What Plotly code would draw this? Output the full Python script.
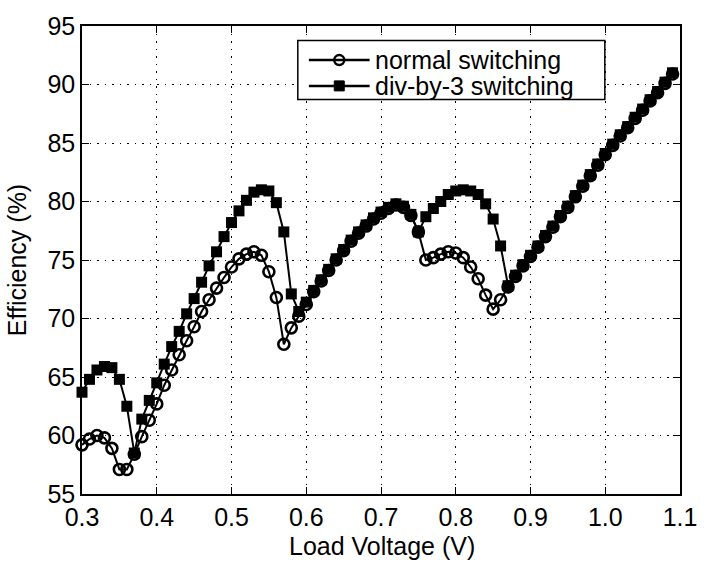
import plotly.graph_objects as go

load_voltage = [0.30, 0.31, 0.32, 0.33, 0.34, 0.35, 0.36, 0.37, 0.38, 0.39,
                0.40, 0.41, 0.42, 0.43, 0.44, 0.45, 0.46, 0.47, 0.48, 0.49,
                0.50, 0.51, 0.52, 0.53, 0.54, 0.55, 0.56, 0.57, 0.58, 0.59,
                0.60, 0.61, 0.62, 0.63, 0.64, 0.65, 0.66, 0.67, 0.68, 0.69,
                0.70, 0.71, 0.72, 0.73, 0.74, 0.75, 0.76, 0.77, 0.78, 0.79,
                0.80, 0.81, 0.82, 0.83, 0.84, 0.85, 0.86, 0.87, 0.88, 0.89,
                0.90, 0.91, 0.92, 0.93, 0.94, 0.95, 0.96, 0.97, 0.98, 0.99,
                1.00, 1.01, 1.02, 1.03, 1.04, 1.05, 1.06, 1.07, 1.08, 1.09]

normal_switching = [59.2, 59.7, 60.0, 59.8, 58.9, 57.1, 57.1, 58.4, 59.9, 61.3,
                    62.7, 64.3, 65.6, 66.9, 68.1, 69.3, 70.6, 71.6, 72.6, 73.5,
                    74.4, 75.1, 75.5, 75.7, 75.4, 74.0, 71.8, 67.8, 69.2, 70.2,
                    71.2, 72.3, 73.2, 74.1, 75.0, 75.8, 76.6, 77.3, 77.9, 78.5,
                    79.0, 79.4, 79.7, 79.5, 78.8, 77.4, 75.0, 75.2, 75.5, 75.7,
                    75.6, 75.2, 74.4, 73.4, 72.0, 70.8, 71.6, 72.7, 73.6, 74.5,
                    75.3, 76.1, 77.0, 77.8, 78.7, 79.5, 80.4, 81.3, 82.2, 83.1,
                    84.0, 84.8, 85.6, 86.3, 87.1, 87.8, 88.6, 89.3, 90.1, 90.9]

div3_switching = [63.7, 64.8, 65.6, 65.9, 65.8, 64.8, 62.5, 58.5, 61.4, 63.0,
                  64.5, 66.1, 67.6, 68.9, 70.4, 71.7, 73.1, 74.5, 75.7, 77.0,
                  78.2, 79.2, 80.1, 80.8, 81.0, 80.9, 79.9, 77.4, 72.1, 70.6,
                  71.4, 72.4, 73.3, 74.2, 75.1, 75.9, 76.7, 77.4, 78.0, 78.6,
                  79.1, 79.5, 79.8, 79.6, 78.9, 77.4, 78.7, 79.4, 80.0, 80.6,
                  80.9, 81.0, 80.9, 80.6, 79.8, 78.5, 76.2, 72.8, 73.7, 74.6,
                  75.4, 76.2, 77.1, 77.9, 78.8, 79.6, 80.5, 81.4, 82.3, 83.2,
                  84.1, 84.9, 85.7, 86.4, 87.2, 87.9, 88.7, 89.4, 90.2, 91.0]

series_names = ["normal switching", "div-by-3 switching"]

x_ticks = [0.3, 0.4, 0.5, 0.6, 0.7, 0.8, 0.9, 1.0, 1.1]
x_tick_labels = ["0.3", "0.4", "0.5", "0.6", "0.7", "0.8", "0.9", "1.0", "1.1"]
y_ticks = [55, 60, 65, 70, 75, 80, 85, 90, 95]

FONT = "Liberation Sans, Arial, Helvetica, sans-serif"
W, H = 709, 563
ML, MR, MT, MB = 81.5, 17.3, 13.5, 69
PW, PH = W - ML - MR, H - MT - MB


def px2paper_x(px):
    return (px - ML) / PW


def px2paper_y(py):
    return (H - MB - py) / PH


fig = go.Figure()
fig.add_trace(go.Scatter(
    x=load_voltage, y=normal_switching, name=series_names[0],
    mode="lines+markers",
    line=dict(color="black", width=2),
    marker=dict(symbol="circle-open", size=11, color="black", line=dict(width=2.6)),
    cliponaxis=False,
))
fig.add_trace(go.Scatter(
    x=load_voltage, y=div3_switching, name=series_names[1],
    mode="lines+markers",
    line=dict(color="black", width=2),
    marker=dict(symbol="square", size=11, color="black"),
    cliponaxis=False,
))

axis_common = dict(
    showline=True, linecolor="black", linewidth=1.5, mirror="ticks",
    ticks="inside", ticklen=7, tickwidth=1, tickcolor="black",
    showgrid=True, gridcolor="black", gridwidth=1, griddash="1.5px,6px",
    zeroline=False, ticklabeloverflow="allow",
    tickfont=dict(family=FONT, size=25, color="black"),
)

# Legend drawn as a box with sample lines / markers / labels
shapes = []
annotations = []
box = (301.7, 28.3, 615.0, 89.0)
shapes.append(dict(type="rect", xref="paper", yref="paper",
                   x0=px2paper_x(box[0]), x1=px2paper_x(box[2]),
                   y0=px2paper_y(box[3]), y1=px2paper_y(box[1]),
                   line=dict(color="black", width=1.5), fillcolor="white", layer="above"))
rows = [48.5, 75.0]
for i, (name, cy) in enumerate(zip(series_names, rows)):
    yp = px2paper_y(cy)
    shapes.append(dict(type="line", xref="paper", yref="paper",
                       x0=px2paper_x(313), x1=px2paper_x(375), y0=yp, y1=yp,
                       line=dict(color="black", width=2.5), layer="above"))
    cx = px2paper_x(344)
    if i == 0:
        shapes.append(dict(type="circle", xref="paper", yref="paper",
                           xsizemode="pixel", ysizemode="pixel", xanchor=cx, yanchor=yp,
                           x0=-5, x1=5, y0=-5, y1=5,
                           line=dict(color="black", width=2.5), fillcolor="rgba(0,0,0,0)",
                           layer="above"))
    else:
        shapes.append(dict(type="rect", xref="paper", yref="paper",
                           xsizemode="pixel", ysizemode="pixel", xanchor=cx, yanchor=yp,
                           x0=-5, x1=5, y0=-5, y1=5,
                           line=dict(color="black", width=1), fillcolor="black",
                           layer="above"))
    annotations.append(dict(text=name, xref="paper", yref="paper",
                            x=px2paper_x(378), y=yp, xanchor="left", yanchor="middle",
                            showarrow=False, font=dict(family=FONT, size=25, color="black")))

# x-axis title
annotations.append(dict(text="Load Voltage (V)", xref="paper", yref="paper",
                        x=px2paper_x(388), y=px2paper_y(547), xanchor="center", yanchor="middle",
                        showarrow=False, font=dict(family=FONT, size=25, color="black")))

fig.update_layout(
    width=W, height=H,
    margin=dict(l=ML, r=MR, t=MT, b=MB),
    paper_bgcolor="white", plot_bgcolor="white",
    font=dict(family=FONT, size=25, color="black"),
    xaxis=dict(
        range=[0.3, 1.1], tickvals=x_ticks, ticktext=x_tick_labels,
        **axis_common,
    ),
    yaxis=dict(
        range=[55, 95], tickvals=y_ticks,
        title=dict(text="Efficiency (%)", font=dict(family=FONT, size=25, color="black"), standoff=14),
        **axis_common,
    ),
    showlegend=False,
    shapes=shapes,
    annotations=annotations,
)

fig.write_html("out.html")
